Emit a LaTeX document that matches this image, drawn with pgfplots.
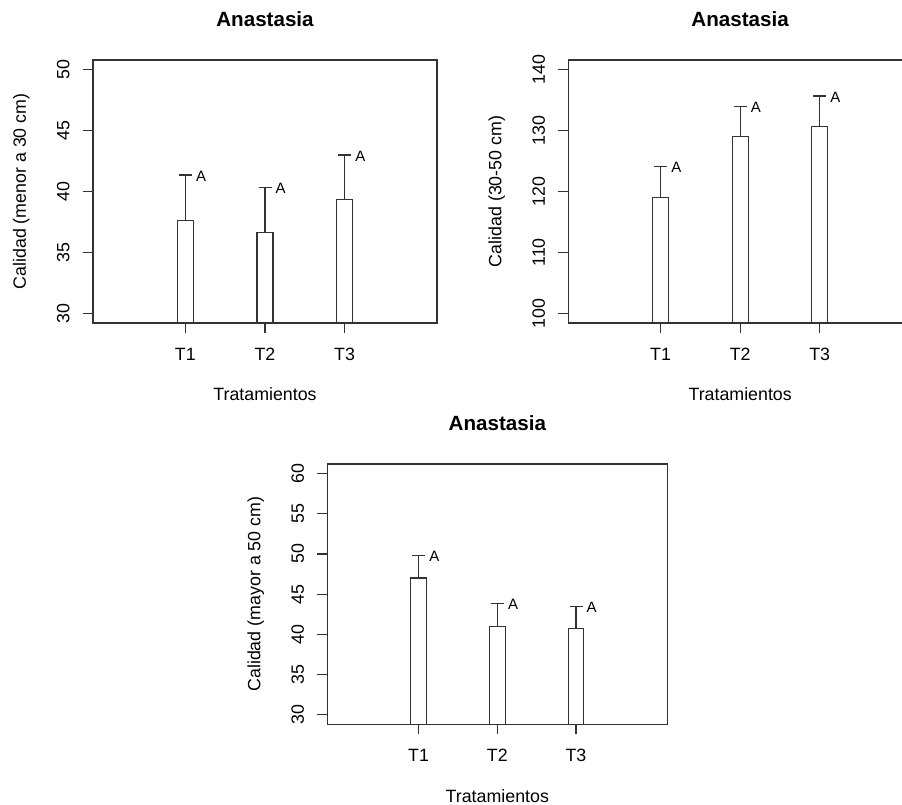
\documentclass[border=0pt]{standalone}
\usepackage{fontspec}
\setmainfont{Liberation Sans}
\usepackage{pgfplots}
\pgfplotsset{compat=1.18}
\definecolor{ln}{gray}{0.2}
\pgfplotsset{rbase/.style={
  scale only axis,
  anchor=south west,
  xmin=-0.16, xmax=4.16,
  xtick={1,2,3}, xticklabels={T1,T2,T3},
  tick align=outside,
  major tick length=10pt,
  xtick pos=lower, ytick pos=left,
  axis line style={ln, line width=1.2pt},
  every tick/.style={ln, line width=1.2pt},
  tick label style={font=\fontsize{17.8}{20}\selectfont, text=black},
  /pgf/number format/assume math mode=true,
  xticklabel style={anchor=base, inner sep=0pt, yshift=-27.5pt},
  yticklabel style={xshift=-13.5pt, rotate=90, anchor=base, inner sep=0pt},
  label style={font=\fontsize{17.8}{20}\selectfont},
  xlabel style={at={([yshift=-78pt]axis description cs:0.5,0)}, anchor=base, inner sep=0pt},
  ylabel style={at={([xshift=-67pt]axis description cs:0,0.5)}, anchor=base, inner sep=0pt},
  title style={at={([yshift=27pt]axis description cs:0.5,1)}, anchor=base, inner sep=0pt, font=\bfseries\fontsize{20.6}{24}\selectfont},
  xlabel=Tratamientos, title=Anastasia,
}}
\pgfplotsset{rbar/.style={ybar, bar width=0.2, bar shift=0pt, fill=white, draw=ln, line width=1.2pt,
  error bars/.cd, y dir=plus, y explicit,
  error bar style={ln, line width=1.2pt},
  error mark options={ln, line width=1.2pt, mark size=6.5pt, rotate=90}}}
\pgfplotsset{rlab/.style={draw=none, mark=none, nodes near coords={A},
  every node near coord/.append style={anchor=west, inner sep=0pt, xshift=10.5pt, yshift=-1pt, text=black, font=\fontsize{15}{17}\selectfont}}}
\begin{document}
\begin{tikzpicture}
\path[use as bounding box] (0,0) rectangle (902pt,805pt);
% Panel 1
\begin{axis}[rbase, at={(93pt,482pt)}, width=344pt, height=263pt,
  ymin=29.2, ymax=50.8, ytick={30,35,40,45,50},
  ylabel={Calidad (menor a 30 cm)}]
\addplot[rbar] coordinates {(1,37.65) +- (0,3.71) (2,36.64) +- (0,3.69) (3,39.34) +- (0,3.66)};
\addplot[rlab] coordinates {(1,41.36) (2,40.33) (3,43.0)};
\end{axis}
% Panel 2
\begin{axis}[rbase, at={(568.3pt,482pt)}, width=343.7pt, height=263pt,
  ymin=98.4, ymax=141.6, ytick={100,110,120,130,140},
  ylabel={Calidad (30-50 cm)}]
\addplot[rbar] coordinates {(1,119.0) +- (0,5.1) (2,129.0) +- (0,5.0) (3,130.7) +- (0,5.0)};
\addplot[rlab] coordinates {(1,124.1) (2,134.0) (3,135.7)};
\end{axis}
% Panel 3
\begin{axis}[rbase, at={(327.3pt,80.7pt)}, width=340pt, height=260.3pt,
  ymin=28.8, ymax=61.2, ytick={30,35,40,45,50,55,60},
  ylabel={Calidad (mayor a 50 cm)}]
\addplot[rbar] coordinates {(1,47.0) +- (0,2.83) (2,41.0) +- (0,2.88) (3,40.7) +- (0,2.8)};
\addplot[rlab] coordinates {(1,49.83) (2,43.88) (3,43.5)};
\end{axis}
\end{tikzpicture}
\end{document}
